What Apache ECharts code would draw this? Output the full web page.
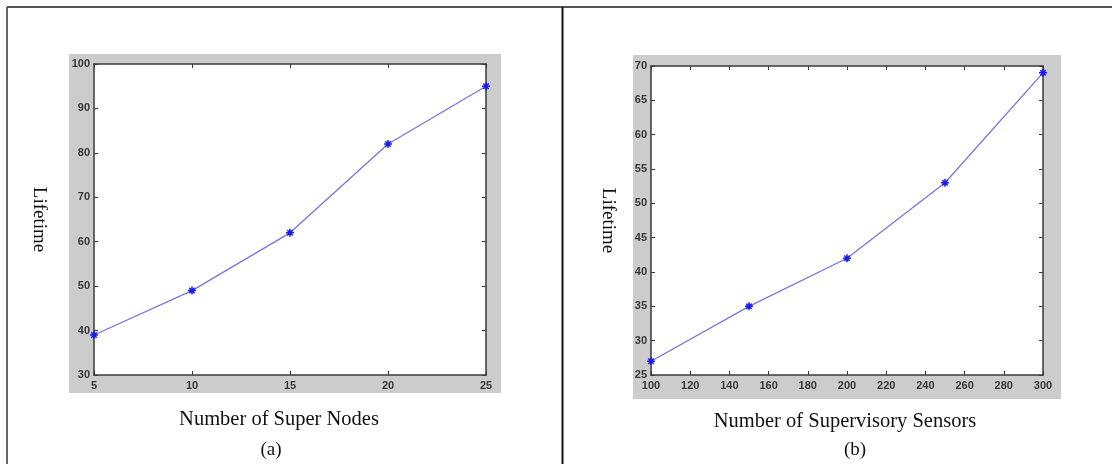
<!DOCTYPE html>
<html>
<head>
<meta charset="utf-8">
<title>Lifetime</title>
<script src="https://cdn.jsdelivr.net/npm/echarts@6/dist/echarts.min.js"></script>
<style>
    html, body { margin: 0; padding: 0; background: #fff; }
    #main { width: 1112px; height: 464px; }
</style>
</head>
<body>
<div id="main"></div>
<script>
    // (a) lifetime vs number of super nodes
    let superNodes = [5, 10, 15, 20, 25];
    let lifetimeA = [39, 49, 62, 82, 95];

    // (b) lifetime vs number of supervisory sensors
    let supervisorySensors = [100, 150, 200, 250, 300];
    let lifetimeB = [27, 35, 42, 53, 69];

    // axis ranges [min, max, interval]
    let xRangeA = [5, 25, 5];
    let yRangeA = [30, 100, 10];
    let xRangeB = [100, 300, 20];
    let yRangeB = [25, 70, 5];

    const serif = '"Liberation Serif", "Times New Roman", serif';
    const sans = '"Liberation Sans", Arial, sans-serif';
    const asterisk = 'path://M5,0L5,10M0,5L10,5M1.6,1.6L8.4,8.4M1.6,8.4L8.4,1.6';

    function valueAxis(range, gridIndex, position, opts) {
        let axis = {
            type: 'value',
            gridIndex: gridIndex,
            position: position,
            min: range[0],
            max: range[1],
            interval: range[2],
            splitLine: {show: false},
            axisLine: {show: true, onZero: false, lineStyle: {color: '#3a3a3a', width: 1.5}},
            axisTick: {show: true, inside: true, length: 4, lineStyle: {color: '#3a3a3a'}},
            axisLabel: {show: false}
        };
        return Object.assign(axis, opts || {});
    }

    function tickLabels(margin) {
        return {show: true, margin: margin, color: '#363636', fontFamily: sans, fontSize: 11, fontWeight: 'bold'};
    }

    function pairs(xs, ys) {
        let out = [];
        for (let i = 0; i < xs.length; ++i) {
            out.push([xs[i], ys[i]]);
        }
        return out;
    }

    function lineSeries(xIndex, yIndex, data) {
        return {
            type: 'line',
            xAxisIndex: xIndex,
            yAxisIndex: yIndex,
            data: data,
            symbol: asterisk,
            symbolSize: 8,
            showAllSymbol: true,
            lineStyle: {color: '#7676d8', width: 1.3},
            itemStyle: {color: '#1a1aee', borderColor: '#1a1aee', borderWidth: 1.5},
            emphasis: {disabled: true},
            animation: false
        };
    }

    const myChart = echarts.init(document.getElementById('main'));

    let options = {
        backgroundColor: '#fff',
        animation: false,
        title: [
            {text: '(a)', left: 266, top: 436, textAlign: 'center',
                textStyle: {fontFamily: serif, fontSize: 19, fontWeight: 'normal', color: '#111'}},
            {text: '(b)', left: 850, top: 436, textAlign: 'center',
                textStyle: {fontFamily: serif, fontSize: 19, fontWeight: 'normal', color: '#111'}}
        ],
        graphic: [
            {type: 'rect', z: -10, shape: {x: 69, y: 54, width: 432, height: 339}, style: {fill: '#cccccc'}},
            {type: 'rect', z: -10, shape: {x: 633, y: 55, width: 428, height: 344}, style: {fill: '#cccccc'}},
            {type: 'line', shape: {x1: 7, y1: 7, x2: 1112, y2: 7}, style: {stroke: '#555', lineWidth: 2}},
            {type: 'line', shape: {x1: 7, y1: 7, x2: 7, y2: 464}, style: {stroke: '#666', lineWidth: 2}},
            {type: 'line', shape: {x1: 562.5, y1: 7, x2: 562.5, y2: 464}, style: {stroke: '#111', lineWidth: 2}}
        ],
        grid: [
            {left: 94, top: 64, width: 392, height: 311, show: true, backgroundColor: '#fff', borderWidth: 0},
            {left: 651, top: 66, width: 392, height: 309, show: true, backgroundColor: '#fff', borderWidth: 0}
        ],
        xAxis: [
            valueAxis(xRangeA, 0, 'bottom', {
                axisLabel: tickLabels(5),
                name: 'Number of Super Nodes',
                nameLocation: 'middle',
                nameGap: 34,
                nameTextStyle: {fontFamily: serif, fontSize: 20.5, color: '#111', padding: [0, 22, 0, 0]}
            }),
            valueAxis(xRangeA, 0, 'top'),
            valueAxis(xRangeB, 1, 'bottom', {
                axisLabel: tickLabels(5),
                name: 'Number of Supervisory Sensors',
                nameLocation: 'middle',
                nameGap: 36,
                nameTextStyle: {fontFamily: serif, fontSize: 20.5, color: '#111', padding: [0, 4, 0, 0]}
            }),
            valueAxis(xRangeB, 1, 'top')
        ],
        yAxis: [
            valueAxis(yRangeA, 0, 'left', {
                axisLabel: tickLabels(4),
                name: 'Lifetime',
                nameLocation: 'middle',
                nameRotate: -90,
                nameGap: 46,
                nameTextStyle: {fontFamily: serif, fontSize: 19, color: '#111'}
            }),
            valueAxis(yRangeA, 0, 'right'),
            valueAxis(yRangeB, 1, 'left', {
                axisLabel: tickLabels(4),
                name: 'Lifetime',
                nameLocation: 'middle',
                nameRotate: -90,
                nameGap: 34,
                nameTextStyle: {fontFamily: serif, fontSize: 19, color: '#111'}
            }),
            valueAxis(yRangeB, 1, 'right')
        ],
        series: [
            lineSeries(0, 0, pairs(superNodes, lifetimeA)),
            lineSeries(2, 2, pairs(supervisorySensors, lifetimeB))
        ]
    };
    myChart.setOption(options, true);
</script>
</body>
</html>
